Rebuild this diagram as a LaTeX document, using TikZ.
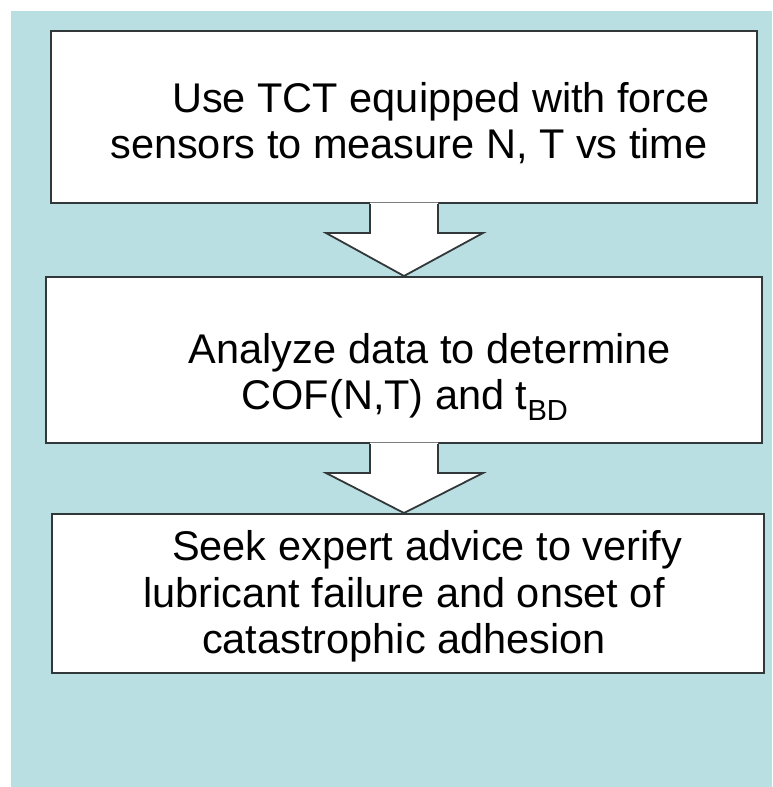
\documentclass[tikz,border=0pt]{standalone}
\usepackage{fontspec}
\setmainfont{Liberation Sans}
\usetikzlibrary{calc}
\definecolor{panelblue}{RGB}{186,223,226}
\definecolor{edgegray}{RGB}{50,56,58}
\tikzset{
  stepbox/.style={draw=edgegray, line width=2pt, fill=white, inner sep=0pt},
  boxtext/.style={align=center, font=\fontsize{41.5}{46.5}\selectfont, inner sep=0pt, text=black},
  blockarrow/.style={draw=edgegray, line width=1.8pt, line join=miter},
}
\begin{document}
\begin{tikzpicture}[x=1pt,y=1pt]
  \useasboundingbox (0,0) rectangle (772,-787);
  % panel
  \fill[panelblue] (11,-11) rectangle (772,-787);

  % process steps
  \node[stepbox, minimum width=706pt, minimum height=172pt] (b1) at (404,-117) {};
  \node[stepbox, minimum width=716pt, minimum height=166pt] (b2) at (404,-360) {};
  \node[stepbox, minimum width=712pt, minimum height=159pt] (b3) at (408,-593.5) {};

  \node[boxtext] (t1) at ($(b1.center)+(5,-6)$)
    {\hspace*{64pt}Use TCT equipped with force\\sensors to measure N, T vs time};
  \node[boxtext] (t2) at ($(b2.center)+(1,-17)$)
    {\hspace*{50pt}Analyze data to determine\\COF(N,T) and t\textsubscript{BD}};
  \node[boxtext] (t3) at ($(b3.center)+(-4,-3)$)
    {\hspace*{46pt}Seek expert advice to verify\\lubricant failure and onset of\\catastrophic adhesion};

  % block arrows between steps
  \foreach \a/\b in {b1/b2, b2/b3} {
    \coordinate (tip) at (\a.south |- \b.north);
    \fill[white] ($(\a.south)+(-34,1.5)$) -- ($(\a.south)+(-34,-29)$) -- ($(\a.south)+(-78,-29)$)
      -- (tip) -- ($(\a.south)+(79,-29)$) -- ($(\a.south)+(34,-29)$) -- ($(\a.south)+(34,1.5)$) -- cycle;
    \draw[blockarrow] ($(\a.south)+(-34,0)$) -- ($(\a.south)+(-34,-29)$) -- ($(\a.south)+(-78,-29)$)
      -- (tip) -- ($(\a.south)+(79,-29)$) -- ($(\a.south)+(34,-29)$) -- ($(\a.south)+(34,0)$);
  }
\end{tikzpicture}
\end{document}
